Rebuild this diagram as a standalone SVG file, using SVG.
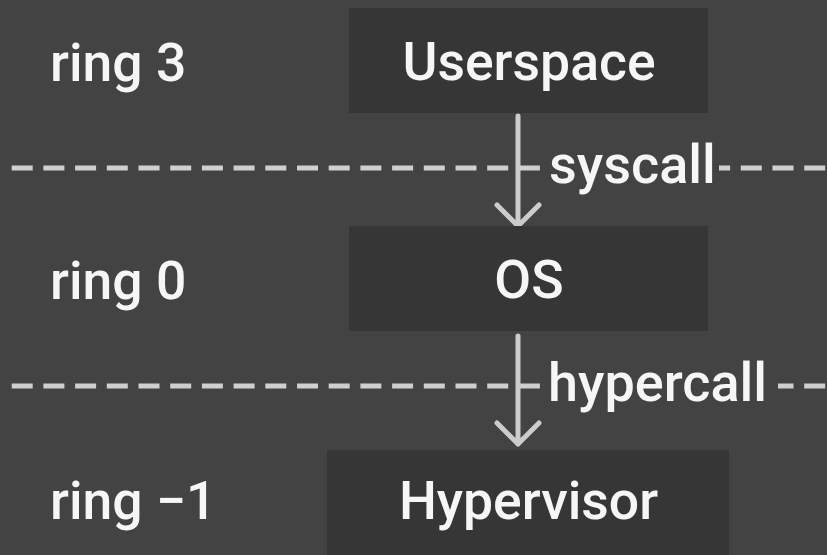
<svg xmlns="http://www.w3.org/2000/svg" width="827" height="555" viewBox="0 0 827 555">
<style>
.bg{fill:#434343}
.box{fill:#363636}
.t{font-family:Roboto,"Liberation Sans",sans-serif;font-weight:500;font-size:53.5px;fill:#f6f6f6}
.lbl{font-size:54px}
.dash{stroke:#cfcfcf;stroke-width:5;stroke-dasharray:21 10.7;fill:none}
.arr{stroke:#cccccc;stroke-width:5;fill:none;stroke-linecap:round;stroke-linejoin:round}
</style>
<rect class="bg" x="0" y="0" width="827" height="555"/>
<g id="lines">
<line class="dash" x1="11.7" y1="168" x2="827" y2="168"/>
<line class="dash" x1="11.7" y1="386" x2="827" y2="386"/>
</g>
<g id="connectors">
<path class="arr" d="M518 116 V225 M497 205 L518 226 L539 205"/>
<path class="arr" d="M518 336 V444 M497 423 L518 444 L539 423"/>
<rect class="bg" x="543" y="132" width="176" height="66"/>
<text class="t lbl" x="549" y="183">syscall</text>
<rect class="bg" x="543" y="350" width="235" height="66"/>
<text class="t lbl" x="548" y="401">hypercall</text>
</g>
<g id="ring3"><text class="t" x="50" y="81">ring 3</text></g>
<g id="ring0"><text class="t" x="50" y="299">ring 0</text></g>
<g id="ring-1"><text class="t" x="50" y="519">ring −1</text></g>
<g id="userspace"><rect class="box" x="349" y="8" width="359" height="105"/><text class="t" x="529" y="80" text-anchor="middle">Userspace</text></g>
<g id="os"><rect class="box" x="349" y="226" width="359" height="105"/><text class="t" x="529" y="298" text-anchor="middle">OS</text></g>
<g id="hypervisor"><rect class="box" x="327" y="450" width="402" height="110"/><text class="t" x="528.5" y="519" text-anchor="middle">Hypervisor</text></g>
</svg>
